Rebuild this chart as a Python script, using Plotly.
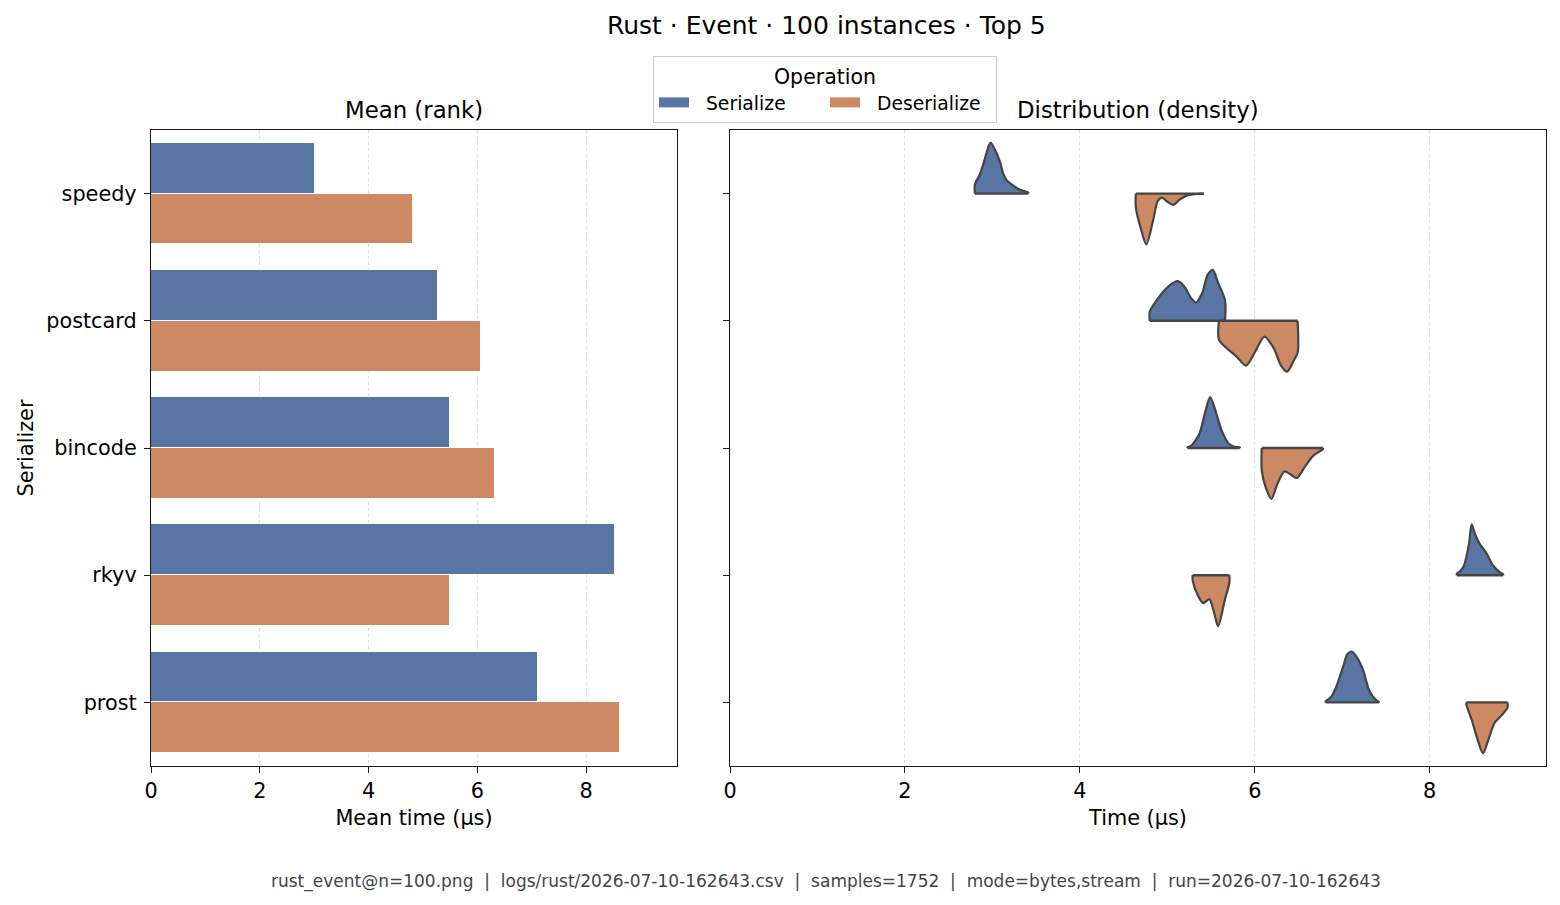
import plotly.graph_objects as go

# ---------------- data ----------------
serializers = ["speedy", "postcard", "bincode", "rkyv", "prost"]
mean_serialize = [3.01, 5.28, 5.50, 8.53, 7.11]
mean_deserialize = [4.82, 6.07, 6.32, 5.50, 8.62]

# density profiles (time in µs, relative density 0..1)
ser_time = {
    "speedy":   [2.80, 2.85, 2.90, 2.95, 2.98, 3.03, 3.09, 3.12, 3.16, 3.22, 3.31, 3.41],
    "postcard": [4.80, 4.91, 4.99, 5.06, 5.12, 5.20, 5.27, 5.33, 5.40, 5.46, 5.52, 5.58, 5.66],
    "bincode":  [5.23, 5.27, 5.33, 5.37, 5.43, 5.49, 5.56, 5.62, 5.70, 5.76, 5.83],
    "rkyv":     [8.31, 8.35, 8.39, 8.45, 8.48, 8.52, 8.57, 8.65, 8.72, 8.80, 8.84],
    "prost":    [6.81, 6.87, 6.93, 7.01, 7.06, 7.11, 7.17, 7.24, 7.31, 7.39, 7.42],
}
ser_density = {
    "speedy":   [0.18, 0.35, 0.60, 0.90, 1.00, 0.86, 0.61, 0.41, 0.27, 0.18, 0.08, 0.02],
    "postcard": [0.18, 0.48, 0.64, 0.74, 0.78, 0.66, 0.45, 0.36, 0.55, 0.90, 1.00, 0.75, 0.40],
    "bincode":  [0.01, 0.04, 0.17, 0.29, 0.68, 1.00, 0.68, 0.35, 0.09, 0.03, 0.01],
    "rkyv":     [0.03, 0.08, 0.18, 0.62, 1.00, 0.80, 0.62, 0.43, 0.20, 0.06, 0.02],
    "prost":    [0.02, 0.10, 0.30, 0.70, 0.95, 1.00, 0.88, 0.63, 0.23, 0.04, 0.01],
}
des_time = {
    "speedy":   [4.64, 4.70, 4.76, 4.84, 4.89, 4.94, 5.00, 5.07, 5.14, 5.22, 5.32, 5.42],
    "postcard": [5.59, 5.68, 5.79, 5.90, 6.00, 6.11, 6.22, 6.30, 6.37, 6.44, 6.49],
    "bincode":  [6.08, 6.13, 6.19, 6.26, 6.34, 6.41, 6.48, 6.58, 6.67, 6.78],
    "rkyv":     [5.29, 5.35, 5.41, 5.48, 5.53, 5.58, 5.66, 5.71],
    "prost":    [8.42, 8.48, 8.55, 8.61, 8.67, 8.74, 8.82, 8.89],
}
des_density = {
    "speedy":   [0.27, 0.70, 1.00, 0.51, 0.15, 0.08, 0.16, 0.22, 0.12, 0.04, 0.01, 0.00],
    "postcard": [0.37, 0.54, 0.70, 0.88, 0.62, 0.31, 0.55, 0.88, 1.00, 0.80, 0.63],
    "bincode":  [0.44, 0.80, 1.00, 0.70, 0.46, 0.52, 0.59, 0.35, 0.15, 0.02],
    "rkyv":     [0.10, 0.40, 0.55, 0.47, 0.70, 1.00, 0.47, 0.15],
    "prost":    [0.05, 0.34, 0.74, 1.00, 0.74, 0.41, 0.26, 0.10],
}

operations = ["Serialize", "Deserialize"]
title = "Rust · Event · 100 instances · Top 5"
footer = ("rust_event@n=100.png  |  logs/rust/2026-07-10-162643.csv  |  samples=1752  |  "
          "mode=bytes,stream  |  run=2026-07-10-162643")
tick_vals = [0, 2, 4, 6, 8]

# ---------------- style ----------------
BLUE = "#5875a4"
ORANGE = "#cc8963"
EDGE = "#444444"
FONT = "DejaVu Sans"
HALF = 0.4  # half-violin max height in category units

fig = go.Figure()
idx = list(range(len(serializers)))

fig.add_trace(go.Bar(
    x=mean_serialize, y=[i - 0.2 for i in idx], width=0.4, orientation="h",
    marker=dict(color=BLUE, line=dict(color="white", width=1)),
    name=operations[0], showlegend=False, xaxis="x", yaxis="y"))
fig.add_trace(go.Bar(
    x=mean_deserialize, y=[i + 0.2 for i in idx], width=0.4, orientation="h",
    marker=dict(color=ORANGE, line=dict(color="white", width=1)),
    name=operations[1], showlegend=False, xaxis="x", yaxis="y"))

# legend entries (rectangular patches)
NBSP = "\u00a0"
for name, col in zip(operations, (BLUE, ORANGE)):
    fig.add_trace(go.Scatter(
        x=[None], y=[None], mode="lines", line=dict(color=col, width=13),
        name=NBSP * 2 + name, showlegend=True, xaxis="x", yaxis="y"))

for i, s in enumerate(serializers):
    for times, dens, sign, col in ((ser_time[s], ser_density[s], -1, BLUE),
                                   (des_time[s], des_density[s], 1, ORANGE)):
        xs = [times[0]] + list(times) + [times[-1]]
        ys = [i] + [i + sign * HALF * d for d in dens] + [i]
        fig.add_trace(go.Scatter(
            x=xs, y=ys, mode="lines", fill="toself", fillcolor=col,
            line=dict(color=EDGE, width=2.2, shape="spline", smoothing=0.8),
            showlegend=False, hoverinfo="skip", xaxis="x2", yaxis="y2"))
        fig.add_trace(go.Scatter(
            x=[times[0], times[-1]], y=[i, i], mode="lines",
            line=dict(color=EDGE, width=2.4),
            showlegend=False, hoverinfo="skip", xaxis="x2", yaxis="y2"))

W, H = 1560, 905
def px_x(p):
    return p / W
def px_y(p):
    return 1 - p / H

TICK = 20.8
axis_common = dict(
    showline=True, linecolor="#1a1a1a", linewidth=1.3, mirror=True,
    ticks="outside", ticklen=6, tickwidth=1.3, tickcolor="#1a1a1a",
    tickfont=dict(family=FONT, size=TICK, color="#000000"), zeroline=False,
    automargin=False,
)

fig.update_layout(
    width=W, height=H,
    margin=dict(l=0, r=0, t=0, b=0),
    paper_bgcolor="white", plot_bgcolor="white",
    font=dict(family=FONT, color="#000000"),
    bargap=0, barmode="overlay",
    xaxis=dict(domain=[px_x(151), px_x(677)], range=[0, 9.67], tickvals=tick_vals,
               showgrid=True, gridcolor="#dcdcdc", griddash="dot", gridwidth=1,
               title=dict(text="Mean time (μs)", font=dict(size=TICK), standoff=8),
               anchor="y", **axis_common),
    yaxis=dict(domain=[px_y(766), px_y(130)], range=[4.5, -0.5], tickvals=idx,
               ticktext=serializers, showgrid=False, ticklabelstandoff=3,
               title=dict(text="Serializer", font=dict(size=TICK), standoff=6),
               anchor="x", **axis_common),
    xaxis2=dict(domain=[px_x(730), px_x(1546)], range=[0, 9.33], tickvals=tick_vals,
                showgrid=True, gridcolor="#dcdcdc", griddash="dot", gridwidth=1,
                title=dict(text="Time (μs)", font=dict(size=TICK), standoff=8),
                anchor="y2", **axis_common),
    yaxis2=dict(domain=[px_y(766), px_y(130)], range=[4.5, -0.5], tickvals=idx,
                showticklabels=False, showgrid=False, anchor="x2", **axis_common),
    legend=dict(
        title=dict(text="Operation", side="top center", font=dict(size=20.5, family=FONT)),
        orientation="h", x=px_x(825), xanchor="center", y=px_y(56), yanchor="top",
        bordercolor="#cccccc", borderwidth=1, bgcolor="white",
        font=dict(size=18.8, family=FONT), entrywidth=126, entrywidthmode="pixels",
        tracegroupgap=0,
    ),
    showlegend=True,
)

fig.add_annotation(text=title, x=px_x(826), y=px_y(25), xref="paper", yref="paper",
                   showarrow=False, font=dict(size=25, family=FONT), xanchor="center", yanchor="middle")
fig.add_annotation(text="Mean (rank)", x=px_x(414), y=px_y(110), xref="paper", yref="paper",
                   showarrow=False, font=dict(size=22.8, family=FONT), xanchor="center", yanchor="middle")
fig.add_annotation(text="Distribution (density)", x=px_x(1138), y=px_y(110), xref="paper", yref="paper",
                   showarrow=False, font=dict(size=22.8, family=FONT), xanchor="center", yanchor="middle")
fig.add_annotation(text=footer, x=px_x(826), y=px_y(881), xref="paper", yref="paper",
                   showarrow=False, font=dict(size=17, family=FONT, color="#444444"),
                   xanchor="center", yanchor="middle")

fig.write_html("out.html")
